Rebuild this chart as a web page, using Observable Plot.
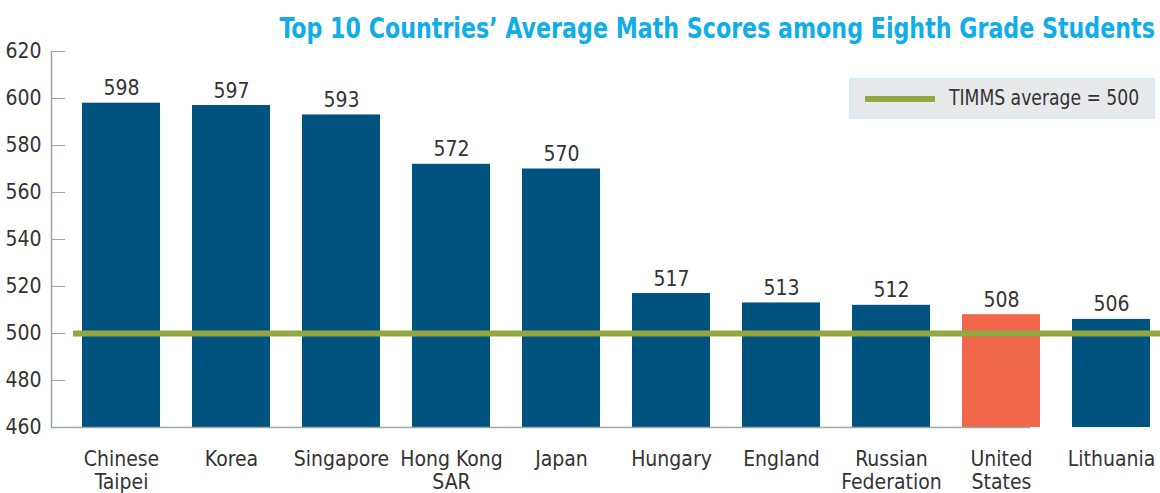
<!DOCTYPE html>
<html>
<head>
<meta charset="utf-8">
<script src="https://cdn.jsdelivr.net/npm/d3@7"></script>
<script src="https://cdn.jsdelivr.net/npm/@observablehq/plot@0.6"></script>
<style>
  html, body { margin: 0; padding: 0; background: #fff; }
  body { width: 1160px; height: 493px; position: relative; overflow: hidden;
         font-family: "Liberation Sans Narrow", "DejaVu Sans Condensed", "Roboto Condensed", sans-serif; font-stretch: condensed; }
  #title { height: 40px; box-sizing: border-box; padding-top: 14px; padding-right: 6px; text-align: right;
           font-size: 29px; line-height: 1; font-weight: bold; color: #0fadea; white-space: nowrap;
           transform: scaleX(0.85); transform-origin: right center; }
  #chart svg { overflow: visible; }
  #legend { position: absolute; left: 849px; top: 78px; width: 302px; height: 37px; background: #e8e9ea;
            border: 2px solid #d4edf7; }
  #legend .swatch { position: absolute; left: 14px; top: 16px; width: 70px; height: 6px; background: #93a743; }
  #legend .lbl { position: absolute; left: 98px; top: 7px; font-size: 21px; color: #333; line-height: 1.1; white-space: nowrap;
                 transform: scaleX(0.91); transform-origin: left center; }
</style>
</head>
<body>
<div id="title">Top 10 Countries’ Average Math Scores among Eighth Grade Students</div>
<div id="chart"></div>
<div id="legend"><div class="swatch"></div><div class="lbl">TIMMS average = 500</div></div>
<script>
const countries = ["Chinese Taipei", "Korea", "Singapore", "Hong Kong SAR", "Japan", "Hungary", "England", "Russian Federation", "United States", "Lithuania"];
const countryLabels = ["Chinese\nTaipei", "Korea", "Singapore", "Hong Kong\nSAR", "Japan", "Hungary", "England", "Russian\nFederation", "United\nStates", "Lithuania"];
const scores = [598, 597, 593, 572, 570, 517, 513, 512, 508, 506];
const highlight = "United States";
const timmsAverage = 500;
const yTicks = [460, 480, 500, 520, 540, 560, 580, 600, 620];

const data = countries.map((c, i) => ({country: c, label: countryLabels[i], score: scores[i]}));
const font = "'Liberation Sans Narrow', 'DejaVu Sans Condensed', sans-serif";

const chart = Plot.plot({
  width: 1160,
  height: 453,
  marginTop: 11,
  marginBottom: 66,
  marginLeft: 65,
  marginRight: 0,
  style: {fontFamily: font, fontSize: "20px", color: "#333", background: "transparent", overflow: "visible"},
  x: {domain: countries, range: [80, 1153], paddingInner: 0.29, paddingOuter: 0, axis: null},
  y: {domain: [460, 620], axis: null},
  marks: [
    Plot.barY(data, {x: "country", y1: 460, y2: "score", fill: d => d.country === highlight ? "#f1674a" : "#00537f"}),
    Plot.frame({anchor: "left", dx: -14, stroke: "#9ba7a3", strokeWidth: 1.5}),
    Plot.ruleY([460], {insetLeft: -14, insetRight: 130, stroke: "#9ba7a3", strokeWidth: 1.5}),
    Plot.axisY({ticks: yTicks, tickSize: 14, tickPadding: 10, stroke: "#9ba7a3", fill: "#333", fontSize: 21, label: null, tickFormat: d => String(d)}),
    Plot.ruleY([timmsAverage], {insetLeft: 8, stroke: "#93a743", strokeWidth: 6}),
    Plot.text(data, {x: "country", y: "score", text: d => String(d.score), lineAnchor: "bottom", dy: -8, fontSize: 21, fill: "#333"}),
    Plot.text(data, {x: "country", text: "label", frameAnchor: "bottom", lineAnchor: "top", dy: 22, lineHeight: 1.1, fontSize: 21, fill: "#333"})
  ]
});
document.getElementById("chart").appendChild(chart);
</script>
</body>
</html>
